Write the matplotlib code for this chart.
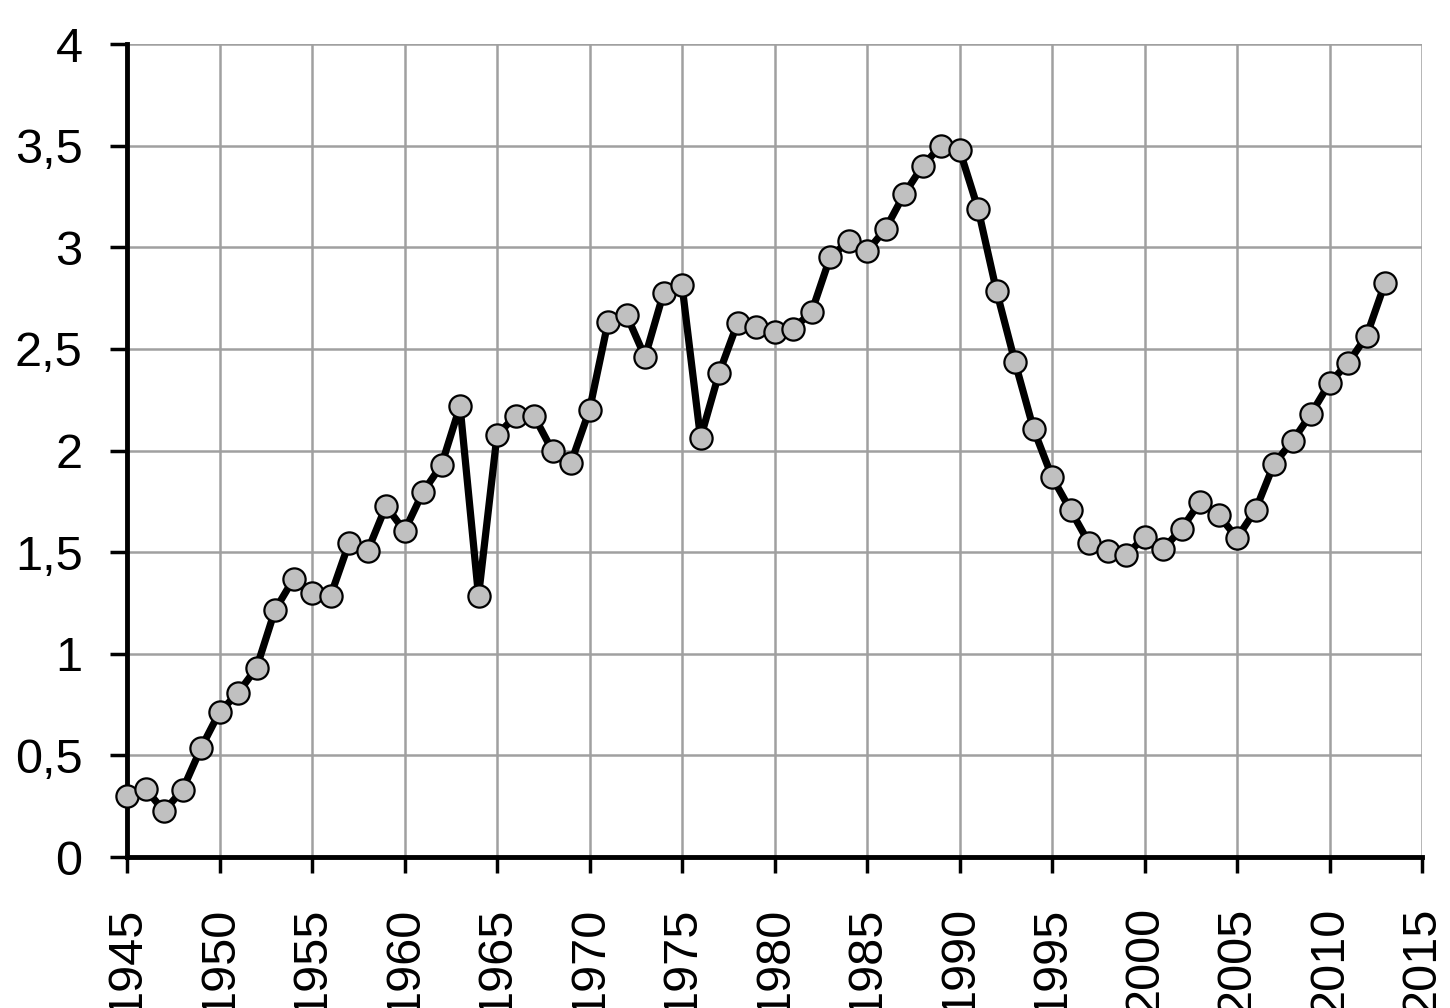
import matplotlib
matplotlib.use("Agg")
import matplotlib.pyplot as plt

years = list(range(1945, 2014))
values = [0.30, 0.335, 0.226, 0.33, 0.536, 0.713, 0.807, 0.93, 1.215, 1.368,
          1.30, 1.284, 1.545, 1.505, 1.727, 1.604, 1.796, 1.929, 2.219, 1.284,
          2.076, 2.17, 2.17, 1.998, 1.94, 2.20, 2.632, 2.667, 2.46, 2.775,
          2.814, 2.061, 2.38, 2.627, 2.61, 2.583, 2.60, 2.68, 2.95, 3.03,
          2.98, 3.09, 3.26, 3.40, 3.50, 3.48, 3.19, 2.785, 2.435, 2.106,
          1.87, 1.707, 1.545, 1.505, 1.486, 1.574, 1.515, 1.614, 1.747, 1.683,
          1.57, 1.707, 1.934, 2.047, 2.18, 2.332, 2.43, 2.563, 2.824]

x_ticks = list(range(1945, 2016, 5))
y_ticks = [0, 0.5, 1, 1.5, 2, 2.5, 3, 3.5, 4]
y_labels = ["0", "0,5", "1", "1,5", "2", "2,5", "3", "3,5", "4"]

plt.rcParams['font.family'] = ["Liberation Sans", "DejaVu Sans"]

fig = plt.figure(figsize=(14.5, 10.08), dpi=100)
ax = fig.add_axes([0.0876, 0.1498, 0.8931, 0.8065])

ax.plot(years, values, color="black", linewidth=5.2, marker="o", markersize=16,
        markerfacecolor="#c0c0c0", markeredgecolor="black", markeredgewidth=1.6,
        zorder=3, clip_on=False)

ax.set_xlim(1945, 2015)
ax.set_ylim(0, 4)
ax.set_xticks(x_ticks)
ax.set_xticklabels([str(x) for x in x_ticks], rotation=90, fontsize=35)
ax.set_yticks(y_ticks)
ax.set_yticklabels(y_labels, fontsize=35)

ax.grid(True, color="#a0a0a0", linewidth=1.8)
ax.set_axisbelow(True)
for s in ["top", "right"]:
    ax.spines[s].set_visible(False)
ax.spines["left"].set_linewidth(3.5)
ax.spines["bottom"].set_linewidth(3.5)
ax.tick_params(axis="y", direction="out", length=12, width=2.5, pad=20)
ax.tick_params(axis="x", direction="out", length=11.5, width=2.5, pad=24)

fig.savefig("out.png", dpi=100)
